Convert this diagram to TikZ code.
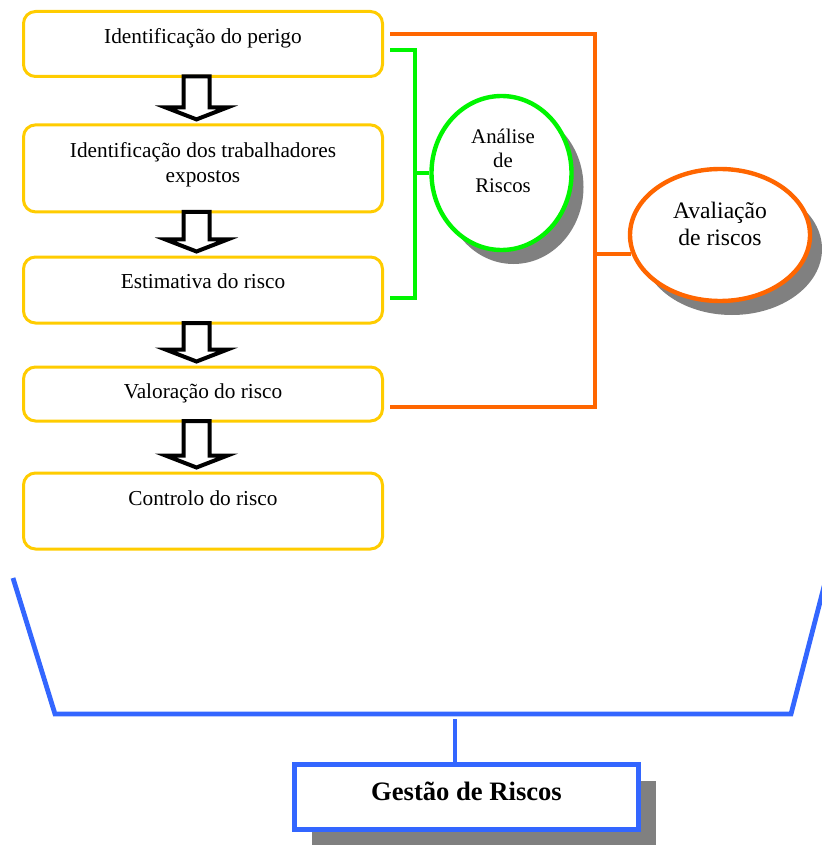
\documentclass[tikz,border=0pt]{standalone}
\usepackage{fontspec}
\setmainfont{Liberation Serif}
\usetikzlibrary{shapes.geometric,shadows,calc}

\definecolor{stepyellow}{RGB}{255,204,0}
\definecolor{anagreen}{RGB}{0,245,0}
\definecolor{avorange}{RGB}{255,102,0}
\definecolor{gestblue}{RGB}{51,102,255}
\definecolor{shadowgray}{RGB}{128,128,128}

% block arrow between two stacked steps: #1 upper node, #2 lower node
\newcommand{\flowarrow}[2]{%
  \draw[flowarr]
    ($(#1.south)+(-19.5,-1.5)$) -- ($(#2.north)+(-19.5,-16)$) --
    ($(#2.north)+(-37.5,-16)$) -- ($(#2.north)+(-6.5,-4)$) --
    ($(#2.north)+(24.5,-16)$) -- ($(#2.north)+(6.5,-16)$) --
    ($(#1.south)+(6.5,-1.5)$) -- cycle;}

\begin{document}
\begin{tikzpicture}[x=0.5pt,y=-0.5pt,
  stepbox/.style={draw=stepyellow, line width=1.5pt, rounded corners=6pt,
    fill=white, minimum width=179.5pt, inner sep=0pt},
  steptext/.style={font=\fontsize{10.65}{12.5}\selectfont, inner sep=0pt},
  flowarr/.style={draw=black, line width=2pt, fill=white, line join=miter},
  gline/.style={draw=anagreen, line width=2pt, line join=miter},
  oline/.style={draw=avorange, line width=2pt, line join=miter},
  bline/.style={draw=gestblue, line width=2.4pt, line join=miter},
  oval/.style={ellipse, fill=white, line width=2.2pt, inner sep=0pt,
    drop shadow={shadow xshift=6pt, shadow yshift=-7pt, fill=shadowgray, opacity=1}},
]
\useasboundingbox (0,0) rectangle (822,845);

% the five steps
\node[stepbox, minimum height=32.5pt] (b1) at (203,44) {};
\node[stepbox, minimum height=43.5pt] (b2) at (203,168.4) {};
\node[stepbox, minimum height=33pt] (b3) at (203,290) {};
\node[stepbox, minimum height=27pt] (b4) at (203,394) {};
\node[stepbox, minimum height=38pt] (b5) at (203,511) {};

\node[steptext, anchor=base] (t1) at (203,44) {Identificação do perigo};
\node[steptext, align=center] (t2) at (203,165) {Identificação dos trabalhadores\\expostos};
\node[steptext, anchor=base] (t3) at (203,288.7) {Estimativa do risco};
\node[steptext, anchor=base] (t4) at (203,398) {Valoração do risco};
\node[steptext, anchor=base] (t5) at (203,505.7) {Controlo do risco};

\flowarrow{b1}{b2}
\flowarrow{b2}{b3}
\flowarrow{b3}{b4}
\flowarrow{b4}{b5}

% risk analysis
\node[oval, draw=anagreen, minimum width=70pt, minimum height=77pt] (ar) at (501.5,173) {};
\node[font=\fontsize{10.4}{12.25}\selectfont, align=center, inner sep=0pt] (art) at (503,160.5) {Análise\\de\\Riscos};

\coordinate (g1) at (390,50);
\coordinate (g3) at (390,298);
\coordinate (gv) at (415,0);
\draw[gline] (g1) -- (g1 -| gv) -- (g3 -| gv) -- (g3);
\draw[gline] (gv |- ar.west) -- (ar.west);

% risk assessment
\node[oval, draw=avorange, minimum width=90pt, minimum height=66pt] (av) at (720,235) {};
\node[font=\fontsize{11.8}{13.5}\selectfont, align=center, inner sep=0pt] (avt) at (720,224) {Avaliação\\de riscos};

\coordinate (o1) at (390,34);
\coordinate (o4) at (390,407);
\coordinate (ov) at (595,0);
\draw[oline] (o1) -- (o1 -| ov) -- (o4 -| ov) -- (o4);
\draw[oline] (ov |- av.192) -- (av.192);

% risk management
\node[draw=gestblue, line width=2.5pt, fill=white, minimum width=172pt,
  minimum height=32.5pt, inner sep=0pt,
  drop shadow={shadow xshift=8.5pt, shadow yshift=-8pt, fill=shadowgray, opacity=1}] (gr) at (466.5,797) {};
\node[font=\bfseries\fontsize{13.3}{16}\selectfont, anchor=base, inner sep=0pt] (grt) at (466.5,800) {Gestão de Riscos};

\coordinate (bl1) at (13,578);
\coordinate (bl2) at (55,714);
\coordinate (br2) at (791,714);
\coordinate (br1) at (827,575);
\draw[bline] (bl1) -- (bl2) -- (br2) -- (br1);
\coordinate (stemtop) at (455,719);
\draw[bline] (stemtop) -- (stemtop |- gr.north);
\end{tikzpicture}
\end{document}
